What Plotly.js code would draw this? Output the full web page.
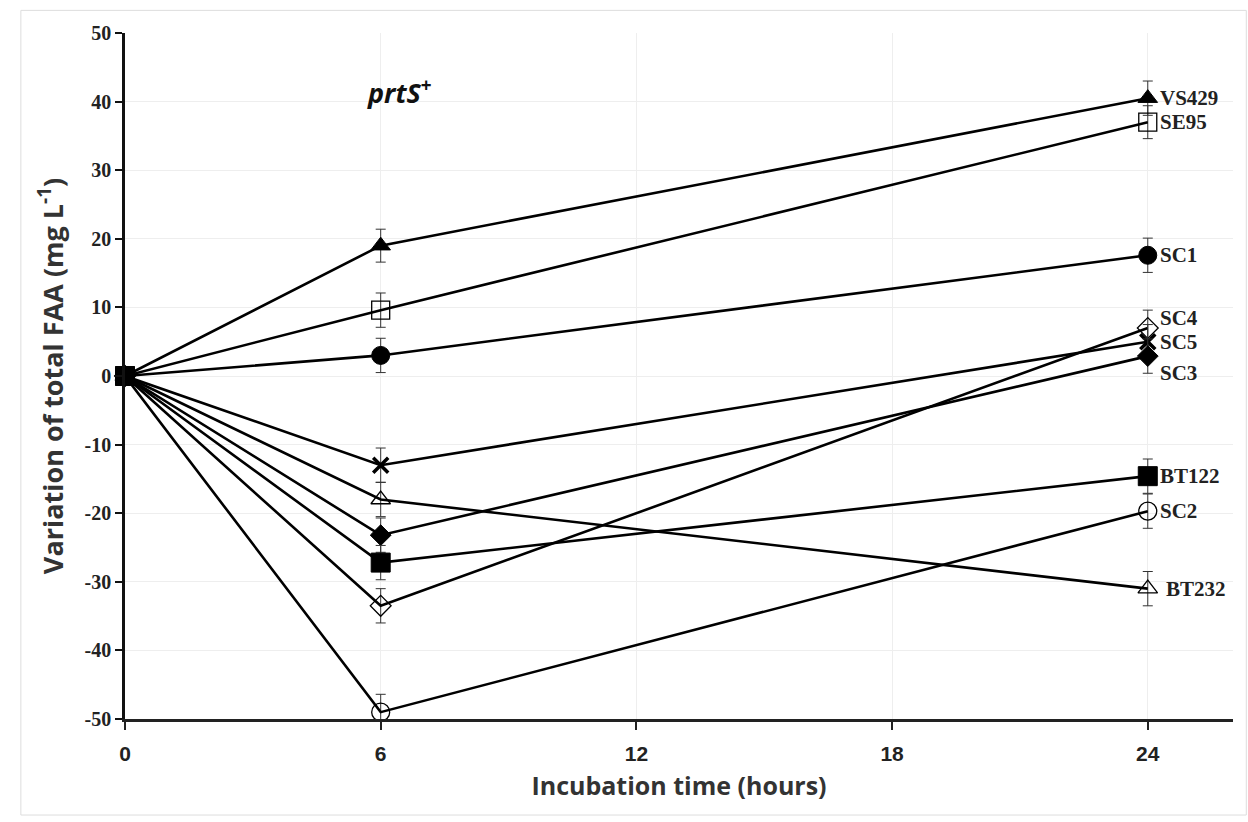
<!DOCTYPE html>
<html>
<head>
<meta charset="utf-8">
<script src="https://cdn.plot.ly/plotly-3.0.1.min.js"></script>
<style>html,body{margin:0;padding:0;background:#fff;}#chart{width:1248px;height:822px;}</style>
</head>
<body>
<div id="chart"></div>
<script>
// Data
const hours = [0, 6, 24];
const strains = ["VS429", "SE95", "SC1", "SC4", "SC5", "SC3", "SC2", "BT232", "BT122"];
const VS429 = [0, 19.0, 40.5];
const SE95  = [0, 9.6, 37.0];
const SC1   = [0, 3.0, 17.6];
const SC4   = [0, -33.5, 7.0];
const SC5   = [0, -13.0, 5.0];
const SC3   = [0, -23.2, 2.9];
const SC2   = [0, -49.0, -19.7];
const BT232 = [0, -18.0, -31.0];
const BT122 = [0, -27.2, -14.6];
const errVS429 = [0, 2.4, 2.5];
const errSE95  = [0, 2.5, 2.4];
const errSC1   = [0, 2.5, 2.5];
const errSC4   = [0, 2.5, 2.6];
const errSC5   = [0, 2.5, 2.5];
const errSC3   = [0, 2.5, 2.5];
const errSC2   = [0, 2.6, 2.5];
const errBT232 = [0, 2.5, 2.5];
const errBT122 = [0, 2.5, 2.5];
const xTicks = [0, 6, 12, 18, 24];
const yTicks = [-50, -40, -30, -20, -10, 0, 10, 20, 30, 40, 50];

const series = {VS429, SE95, SC1, SC4, SC5, SC3, SC2, BT232, BT122};
const errs = {VS429: errVS429, SE95: errSE95, SC1: errSC1, SC4: errSC4, SC5: errSC5, SC3: errSC3, SC2: errSC2, BT232: errBT232, BT122: errBT122};

const markerStyle = {
  VS429: {symbol: 'triangle-up', size: 17, color: '#000', line: {color: '#000', width: 1}},
  SE95:  {symbol: 'square-open', size: 18, color: '#000', line: {color: '#000', width: 1.3}},
  SC1:   {symbol: 'circle', size: 18, color: '#000', line: {color: '#000', width: 1}},
  SC4:   {symbol: 'diamond-open', size: 16, color: '#000', line: {color: '#000', width: 1.3}},
  SC5:   {symbol: 'x-thin-open', size: 15, color: '#000', line: {color: '#000', width: 3.5}},
  SC3:   {symbol: 'diamond', size: 16, color: '#000', line: {color: '#000', width: 1}},
  SC2:   {symbol: 'circle-open', size: 18, color: '#000', line: {color: '#000', width: 1.3}},
  BT232: {symbol: 'triangle-up-open', size: 17, color: '#000', line: {color: '#000', width: 1.3}},
  BT122: {symbol: 'square', size: 19, color: '#000', line: {color: '#000', width: 1}}
};

const traces = strains.map(s => ({
  x: hours,
  y: series[s],
  name: s,
  type: 'scatter',
  mode: 'lines+markers',
  line: {color: '#000', width: 2.6},
  marker: markerStyle[s],
  error_y: {type: 'data', array: errs[s], visible: true, color: '#333', thickness: 1, width: 5},
  cliponaxis: false,
  showlegend: false
}));

const labelShift = {VS429: [10, 0], SE95: [10, 0], SC1: [10, 0], SC4: [10, 10], SC5: [10, 0], SC3: [10, -17], SC2: [10, 0], BT232: [16, 0], BT122: [10, 0]};
const annotations = strains.map(s => ({
  x: hours[2], y: series[s][2], xref: 'x', yref: 'y',
  text: '<b>' + s + '</b>', showarrow: false, xanchor: 'left', yanchor: 'middle',
  xshift: labelShift[s][0], yshift: labelShift[s][1],
  font: {family: 'Liberation Serif', size: 21, color: '#222'}
}));
annotations.push({
  x: 6.45, y: 41.5, xref: 'x', yref: 'y', showarrow: false,
  text: '<i><b>prtS</b></i><sup><b>+</b></sup>',
  font: {family: 'Open Sans', size: 27, color: '#111'}
});

const layout = {
  width: 1248, height: 822,
  paper_bgcolor: '#fff', plot_bgcolor: '#fff',
  margin: {l: 125, r: 15, t: 33, b: 103},
  xaxis: {
    range: [0, 26], tickvals: xTicks, ticktext: xTicks.map(v => '<b>' + v + '</b>'),
    showgrid: true, gridcolor: '#eeeeee', gridwidth: 1,
    zeroline: false, showline: true, linecolor: '#222', linewidth: 3,
    ticks: 'outside', ticklen: 8, tickwidth: 1.5, tickcolor: '#222',
    ticklabelstandoff: 6,
    tickfont: {family: 'Liberation Sans Narrow, Liberation Sans', size: 21, color: '#222'},
    title: {text: '<b>Incubation time (hours)</b>', standoff: 14, font: {family: 'Open Sans', size: 25, color: '#333'}}
  },
  yaxis: {
    range: [-50, 50], tickvals: yTicks, ticktext: yTicks.map(v => '<b>' + v + '</b>'),
    showgrid: true, gridcolor: '#eeeeee', gridwidth: 1,
    zeroline: false, showline: true, linecolor: '#111', linewidth: 2.5,
    ticks: 'outside', ticklen: 7, tickwidth: 2, tickcolor: '#111',
    tickfont: {family: 'Liberation Serif', size: 20, color: '#222'},
    title: {text: '<b>Variation of total FAA (mg L<sup>-1</sup>)</b>', standoff: 14, font: {family: 'Open Sans', size: 27, color: '#333'}}
  },
  annotations: annotations,
  shapes: [{type: 'rect', xref: 'paper', yref: 'paper', x0: -0.094, x1: 1.012, y0: -0.14, y1: 1.033, line: {color: '#ddd', width: 1}}],
  font: {family: 'Open Sans'}
};

Plotly.newPlot('chart', traces, layout, {displayModeBar: false, responsive: false});
</script>
</body>
</html>
